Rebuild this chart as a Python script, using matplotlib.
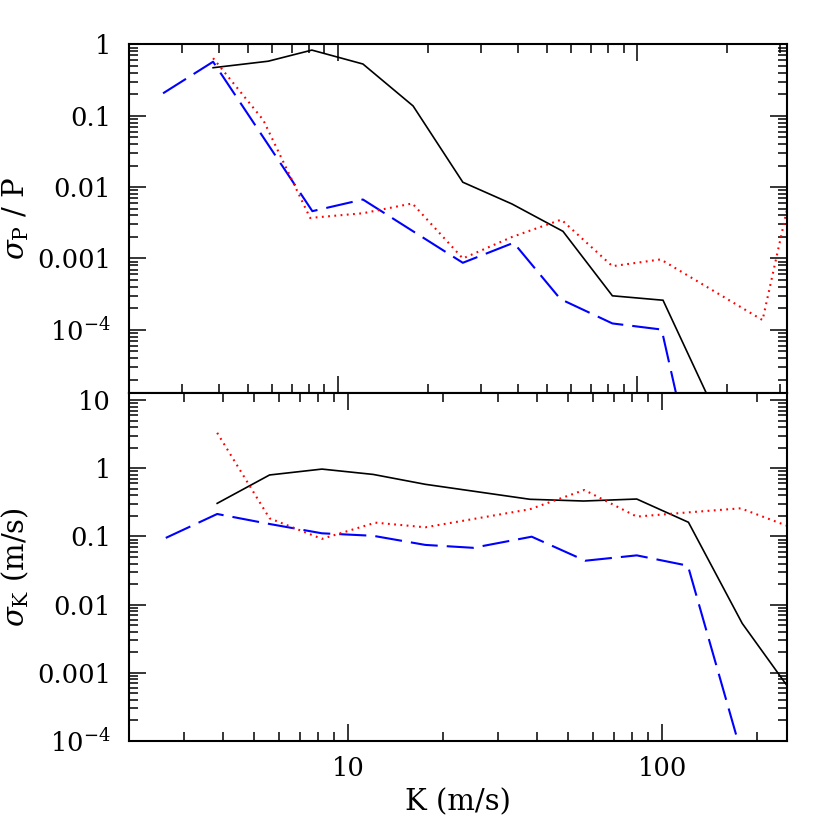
"""
Two stacked log-log panels: fractional period error and K error versus K.
Output: out.png (830x830)
"""

import matplotlib
matplotlib.use("Agg")
import matplotlib.pyplot as plt
from matplotlib.ticker import FixedLocator, FixedFormatter, LogLocator, NullFormatter

plt.rcParams["font.family"] = ["DejaVu Serif"]
plt.rcParams["mathtext.fontset"] = "dejavuserif"
plt.rcParams["lines.scale_dashes"] = False

# ---- top panel: sigma_P / P ----
top_solid_k = [3.82, 5.84, 8.17, 12.1, 17.8, 26.1, 38.1, 56.4, 82.5, 121.8, 175]
top_solid_v = [0.47, 0.58, 0.83, 0.53, 0.137, 0.0117, 0.0058, 0.0024, 3.0e-4, 2.6e-4, 1.0e-5]

top_dash_k = [2.60, 3.82, 8.2, 12.1, 26.1, 38.6, 55.3, 82.5, 120.5, 175]
top_dash_v = [0.206, 0.57, 0.0046, 0.0067, 8.7e-4, 0.00166, 2.7e-4, 1.23e-4, 1.01e-4, 1e-7]

top_dot_k = [3.82, 5.62, 8.06, 12.1, 17.7, 26.1, 38.1, 55.7, 82.5, 119.7, 262, 316]
top_dot_v = [0.64, 0.087, 0.0037, 0.0043, 0.0059, 0.0010, 0.0020, 0.0035, 7.8e-4, 9.7e-4, 1.37e-4, 0.0048]

# ---- bottom panel: sigma_K ----
bot_solid_k = [3.82, 5.61, 8.24, 12.0, 17.6, 37.9, 56.2, 83.0, 121.3, 180, 263]
bot_solid_v = [0.305, 0.795, 0.97, 0.81, 0.58, 0.35, 0.33, 0.353, 0.161, 0.0053, 4.7e-4]

bot_dash_k = [2.62, 3.82, 5.61, 8.24, 12.0, 17.6, 25.0, 38.4, 56.9, 83.0, 120.8, 180]
bot_dash_v = [0.095, 0.213, 0.152, 0.111, 0.102, 0.075, 0.068, 0.099, 0.044, 0.0527, 0.0372, 6e-5]

bot_dot_k = [3.82, 5.61, 8.24, 12.2, 17.6, 37.9, 56.5, 83.0, 121.3, 178, 251]
bot_dot_v = [3.3, 0.184, 0.092, 0.159, 0.136, 0.25, 0.479, 0.195, 0.225, 0.258, 0.142]

top_yticks = [1, 0.1, 0.01, 0.001, 1e-4]
top_ylabels = ["1", "0.1", "0.01", "0.001", r"$10^{-4}$"]
bot_yticks = [10, 1, 0.1, 0.01, 0.001, 1e-4]
bot_ylabels = ["10", "1", "0.1", "0.01", "0.001", r"$10^{-4}$"]
xticks = [10, 100]
xlabels = ["10", "100"]

FS = 18.5
LABEL_FS = 21


def style_axis(ax):
    for s in ax.spines.values():
        s.set_linewidth(1.5)
    ax.tick_params(which="both", direction="in", top=True, right=True, width=1.1)
    ax.tick_params(which="major", length=12.5, pad=13, labelsize=FS)
    ax.tick_params(which="minor", length=6.2)
    ax.tick_params(axis="x", which="major", pad=11)
    ax.xaxis.set_minor_locator(LogLocator(base=10, subs=range(2, 10), numticks=50))
    ax.yaxis.set_minor_locator(LogLocator(base=10, subs=range(2, 10), numticks=50))
    ax.xaxis.set_minor_formatter(NullFormatter())
    ax.yaxis.set_minor_formatter(NullFormatter())


def draw(ax, k1, v1, k2, v2, k3, v3):
    ax.plot(k1, v1, color="black", lw=1.2, solid_joinstyle="miter")
    ax.plot(k2, v2, color="#0000ff", lw=1.5, dashes=(19.5, 6.5))
    ax.plot(k3, v3, color="#ff0000", lw=1.5, dashes=(1.3, 3.2))


fig = plt.figure(figsize=(8.3, 8.3), dpi=100)
fig.patch.set_facecolor("white")

ax_top = fig.add_axes([0.1554, 0.5269, 0.7928, 0.4197])
ax_bot = fig.add_axes([0.1554, 0.1072, 0.7928, 0.4197])

# top panel
ax_top.set_xscale("log")
ax_top.set_yscale("log")
draw(ax_top, top_solid_k, top_solid_v, top_dash_k, top_dash_v, top_dot_k, top_dot_v)
ax_top.set_xlim(2.0, 316.2)
ax_top.set_ylim(10 ** -4.88, 1.0)
style_axis(ax_top)
ax_top.yaxis.set_major_locator(FixedLocator(top_yticks))
ax_top.yaxis.set_major_formatter(FixedFormatter(top_ylabels))
ax_top.xaxis.set_major_locator(FixedLocator(xticks))
ax_top.xaxis.set_major_formatter(NullFormatter())
ax_top.set_ylabel(r"$\sigma_{\rm P}$ / P", fontsize=LABEL_FS, labelpad=4)

# bottom panel
ax_bot.set_xscale("log")
ax_bot.set_yscale("log")
draw(ax_bot, bot_solid_k, bot_solid_v, bot_dash_k, bot_dash_v, bot_dot_k, bot_dot_v)
ax_bot.set_xlim(2.0, 250)
ax_bot.set_ylim(1e-4, 10 ** 1.107)
style_axis(ax_bot)
ax_bot.yaxis.set_major_locator(FixedLocator(bot_yticks))
ax_bot.yaxis.set_major_formatter(FixedFormatter(bot_ylabels))
ax_bot.xaxis.set_major_locator(FixedLocator(xticks))
ax_bot.xaxis.set_major_formatter(FixedFormatter(xlabels))
ax_bot.set_ylabel(r"$\sigma_{\rm K}$ (m/s)", fontsize=LABEL_FS, labelpad=4)
ax_bot.set_xlabel("K (m/s)", fontsize=LABEL_FS, labelpad=5)

fig.align_ylabels([ax_top, ax_bot])

fig.savefig("out.png", dpi=100, facecolor="white")
plt.close(fig)
